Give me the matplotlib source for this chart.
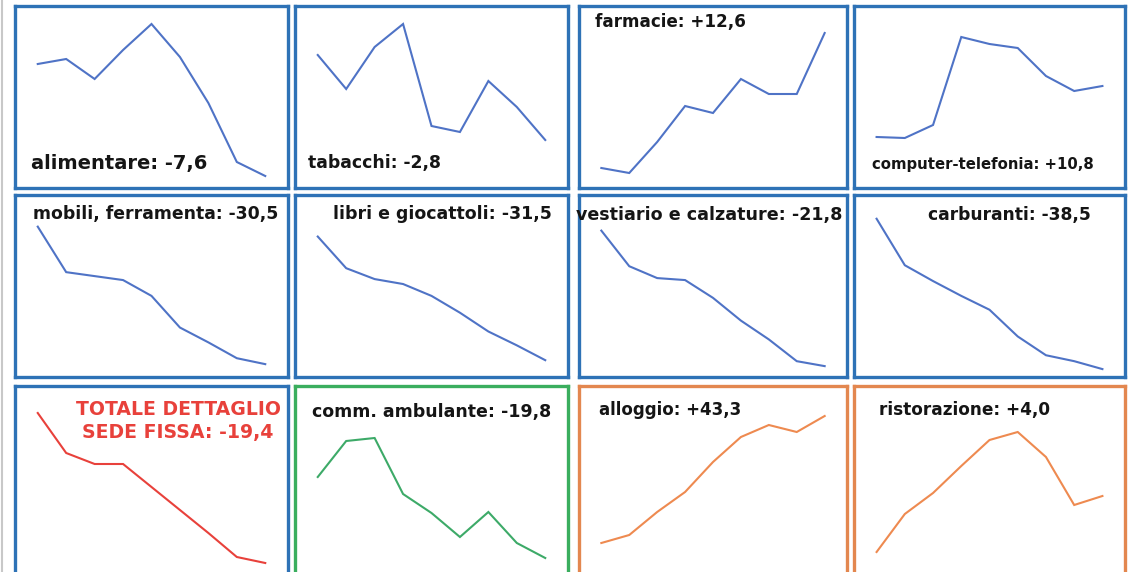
import matplotlib
matplotlib.use("Agg")
import matplotlib.pyplot as plt
from matplotlib.lines import Line2D

# ---- data (9 periods each, arbitrary level) ----
periods = list(range(9))

alimentare = [124, 129, 109, 138, 164, 131, 85, 26, 12]
tabacchi = [133, 99, 141, 164, 62, 56, 107, 81, 48]
farmacie = [20, 15, 46, 82, 75, 109, 94, 94, 155]
computer = [51, 50, 63, 151, 144, 140, 112, 97, 102]
mobili = [151, 105, 101, 97, 81, 49, 34, 18, 12]
libri = [141, 109, 98, 93, 81, 64, 45, 31, 16]
vestiario = [147, 111, 99, 97, 79, 56, 37, 15, 10]
carburanti = [159, 112, 96, 81, 67, 40, 21, 15, 7]
totale = [167, 127, 116, 116, 93, 70, 47, 23, 17]
ambulante = [103, 139, 142, 86, 67, 43, 68, 37, 22]
alloggio = [37, 45, 68, 88, 118, 143, 155, 148, 164]
ristorazione = [28, 66, 87, 114, 140, 148, 123, 75, 84]

labels = [
    "alimentare: -7,6", "tabacchi: -2,8", "farmacie: +12,6", "computer-telefonia: +10,8",
    "mobili, ferramenta: -30,5", "libri e giocattoli: -31,5", "vestiario e calzature: -21,8", "carburanti: -38,5",
    "TOTALE DETTAGLIO\nSEDE FISSA: -19,4", "comm. ambulante: -19,8", "alloggio: +43,3", "ristorazione: +4,0",
]
series = [alimentare, tabacchi, farmacie, computer,
          mobili, libri, vestiario, carburanti,
          totale, ambulante, alloggio, ristorazione]

# ---- styles / layout ----
W, H = 1136, 572
BLUE_B, BLUE_L = "#2e72b6", "#4f73c6"
RED = "#e8413b"
GREEN_B, GREEN_L = "#3aae5e", "#3daa68"
ORANGE_B, ORANGE_L = "#e3874f", "#ee8a50"
border_colors = [BLUE_B] * 9 + [GREEN_B, ORANGE_B, ORANGE_B]
line_colors = [BLUE_L] * 8 + [RED, GREEN_L, ORANGE_L, ORANGE_L]
text_colors = ["#151515"] * 8 + [RED] + ["#151515"] * 3

cols = [(15, 288), (295, 568), (579, 847), (854, 1125)]
rows = [(5.5, 188), (195, 377), (386, 592)]
ylims = [(0, 182.5), (-1, 183), (-12, 194)]

# label placement: (x px, y px centre, ha, fontsize)
label_pos = [
    (31, 163, "left", 14), (308, 163, "left", 12.4), (595, 22, "left", 12.1), (872, 165, "left", 10.7),
    (33, 214, "left", 12.4), (333, 214, "left", 12.5), (576, 215, "left", 12.6), (928, 215, "left", 12.3),
    (178, 421, "center", 13.6), (312, 412, "left", 12.5), (599, 410, "left", 12.0), (879, 410, "left", 12.2),
]

fig = plt.figure(figsize=(W / 100, H / 100), dpi=100)
fig.patch.set_facecolor("white")

for i, vals in enumerate(series):
    r, c = divmod(i, 4)
    x0, x1 = cols[c]
    y0, y1 = rows[r]
    ax = fig.add_axes([x0 / W, 1 - y1 / H, (x1 - x0) / W, (y1 - y0) / H])
    ax.plot(periods, vals, color=line_colors[i], lw=1.5, solid_joinstyle="miter")
    ax.set_xlim(-0.8, 8.8)
    ax.set_ylim(*ylims[r])
    ax.set_xticks([])
    ax.set_yticks([])
    for s in ax.spines.values():
        s.set_color(border_colors[i])
        s.set_linewidth(2.4)
    lx, ly, ha, fs = label_pos[i]
    fig.text(lx / W, 1 - ly / H, labels[i], ha=ha, va="center", fontsize=fs,
             fontweight="bold", color=text_colors[i], family="DejaVu Sans",
             linespacing=1.25)

# faint grey edge on the left of the picture
fig.add_artist(Line2D([1.5 / W, 1.5 / W], [0, 1], color="#c8c8c8", lw=1.5,
                      transform=fig.transFigure))

fig.savefig("out.png", dpi=100, facecolor="white")
